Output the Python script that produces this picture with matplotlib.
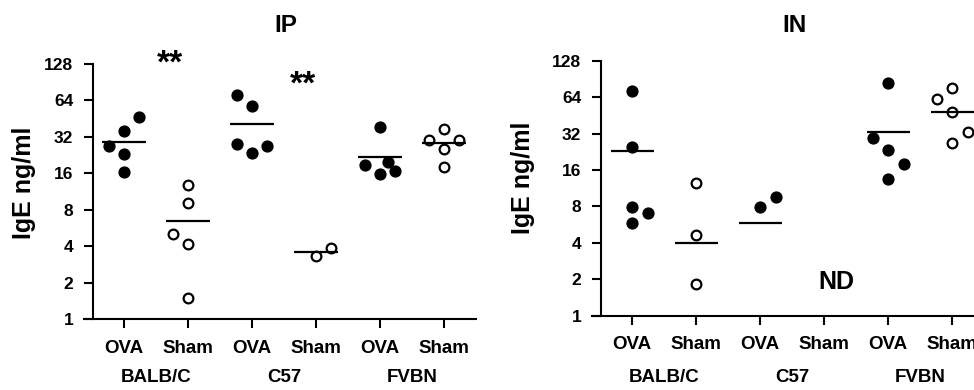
import matplotlib
matplotlib.use("Agg")
import matplotlib.pyplot as plt
import numpy as np

plt.rcParams['font.family'] = ['Liberation Sans', 'DejaVu Sans']
plt.rcParams['font.weight'] = 'bold'

# ---------------- data ----------------
strains = ['BALB/C', 'C57', 'FVBN']
treatments = ['OVA', 'Sham', 'OVA', 'Sham', 'OVA', 'Sham']
y_ticks = [1, 2, 4, 8, 16, 32, 64, 128]

# IP panel (IgE ng/ml)
ip_balb_ova = [47.0, 35.8, 27.0, 22.9, 16.3]
ip_balb_sham = [12.8, 9.1, 5.0, 4.2, 1.5]
ip_c57_ova = [70.9, 57.6, 27.9, 23.4, 27.0]
ip_c57_sham = [3.34, 3.84]
ip_fvbn_ova = [38.8, 18.6, 19.8, 15.8, 16.8]
ip_fvbn_sham = [37.1, 30.1, 30.1, 25.4, 17.9]
ip_means = [29.2, 6.5, 41.1, 3.56, 21.7, 28.3]

# IN panel (IgE ng/ml); C57 Sham not detected
in_balb_ova = [71.5, 24.6, 7.96, 7.1, 5.87]
in_balb_sham = [12.4, 4.62, 1.82]
in_c57_ova = [7.96, 9.51]
in_c57_sham = []
in_fvbn_ova = [83.3, 29.6, 23.4, 17.9, 13.5]
in_fvbn_sham = [61.7, 76.6, 47.9, 32.8, 26.9]
in_means = [23.1, 3.99, 5.83, None, 33.0, 48.5]

# ---------------- layout (scatter slots, in marker widths) ----------------
ip_slots = [[1, 0, -1, 0, 0], [0, 0, -1, 0, 0], [-1, 0, -1, 0, 1],
            [0, 1], [0, -1, 0.5, 0, 1], [0, -1, 1, 0, 0]]
in_slots = [[0, 0, 0, 1, 0], [0, 0, 0], [0, 1],
            [], [0, -1, 0, 1, 0], [-1, 0, 0, 1, 0]]
SLOT = 0.242

ip_groups = [ip_balb_ova, ip_balb_sham, ip_c57_ova, ip_c57_sham, ip_fvbn_ova, ip_fvbn_sham]
in_groups = [in_balb_ova, in_balb_sham, in_c57_ova, in_c57_sham, in_fvbn_ova, in_fvbn_sham]

W, H = 974, 390
fig = plt.figure(figsize=(W / 100, H / 100), dpi=100)
ax1 = fig.add_axes([84 / W, (H - 319) / H, 392 / W, 255 / H])
ax2 = fig.add_axes([592.3 / W, (H - 315.7) / H, 392 / W, 255 / H])


def draw_panel(ax, groups, slots, means, title, title_x, title_pad, label_x, label_y, strain_off):
    for i, (vals, sl) in enumerate(zip(groups, slots)):
        if len(vals) == 0:
            continue
        xs = i + np.array(sl, dtype=float) * SLOT
        if treatments[i] == 'OVA':
            ax.plot(xs, vals, 'o', ms=7.8, color='black', mec='black', ls='none',
                    clip_on=False, zorder=3)
        else:
            ax.plot(xs, vals, 'o', ms=7.0, mfc='white', mec='black', mew=1.6,
                    ls='none', clip_on=False, zorder=3)
    for i, m in enumerate(means):
        if m is None:
            continue
        ax.hlines(m, i - 0.34, i + 0.34, colors='black', lw=1.6, zorder=4, clip_on=False)

    ax.set_yscale('log', base=2)
    ax.set_ylim(1, 128)
    ax.set_xlim(-0.625, 5.5)
    ax.set_yticks(y_ticks)
    ax.set_yticklabels([str(t) for t in y_ticks])
    ax.minorticks_off()
    ax.set_xticks(range(len(treatments)))
    ax.set_xticklabels(treatments)
    for s in ['top', 'right']:
        ax.spines[s].set_visible(False)
    ax.spines['left'].set_position(('data', -0.484))
    for s in ['left', 'bottom']:
        ax.spines[s].set_linewidth(1.5)
    ax.tick_params(axis='both', direction='out', length=6.3, width=1.5, pad=8)
    ax.tick_params(axis='y', labelsize=12.5)
    ax.tick_params(axis='x', pad=8.5, labelsize=13.5)
    for lab in ax.get_xticklabels() + ax.get_yticklabels():
        lab.set_fontweight('bold')

    ax.set_title(title, fontsize=17.5, fontweight='bold', x=title_x, pad=title_pad)
    ax.set_ylabel('IgE ng/ml', fontsize=18, fontweight='bold', va='center')
    ax.yaxis.set_label_coords(label_x, label_y)

    for k, s in enumerate(strains):
        ax.annotate(s, xy=(2 * k + 0.5, 0), xycoords=('data', 'axes fraction'),
                    xytext=(0, -strain_off), textcoords='offset points',
                    ha='center', va='baseline', fontsize=13.5, fontweight='bold',
                    annotation_clip=False)


draw_panel(ax1, ip_groups, ip_slots, ip_means, 'IP', 0.515, 22.8, -0.153, 0.535, 45.1)
draw_panel(ax2, in_groups, in_slots, in_means, 'IN', 0.517, 20.9, -0.176, 0.539, 47.5)

ax1.text(0.714, 107.8, '**', fontsize=24, fontweight='bold', ha='center',
         va='baseline', clip_on=False)
ax1.text(2.79, 73.0, '**', fontsize=24, fontweight='bold', ha='center',
         va='baseline', clip_on=False)
ax2.text(3.19, 1.65, 'ND', fontsize=18, fontweight='bold', ha='center',
         va='baseline', clip_on=False)

fig.savefig('out.png', dpi=100)
